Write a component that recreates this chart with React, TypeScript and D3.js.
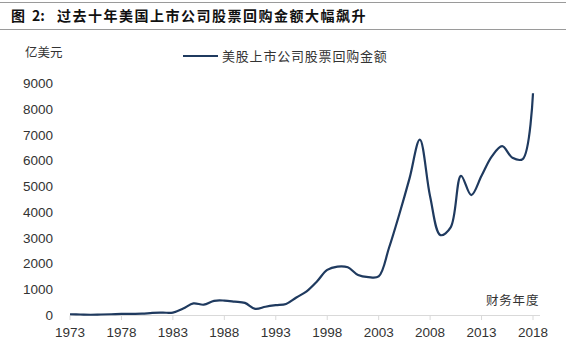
import React from "react";
import * as d3 from "d3";

const years: number[] = d3.range(1973, 2019);
// 亿美元
const buyback: number[] = [
  30, 20, 10, 20, 30, 40, 45, 50, 80, 90,
  95, 250, 450, 400, 550, 560, 520, 470, 240, 320,
  380, 430, 680, 920, 1300, 1750, 1880, 1850, 1550, 1470,
  1500, 2600, 3900, 5300, 6800, 4600, 3100, 3400, 5400, 4650,
  5400, 6150, 6550, 6100, 6050, 8600,
];
const yTicks: number[] = d3.range(0, 10000, 1000);
const xTicks: number[] = d3.range(1973, 2019, 5);

const figWord = "图";
const figNum = "2:";
const title = "过去十年美国上市公司股票回购金额大幅飙升";
const seriesName = "美股上市公司股票回购金额";
const yUnit = "亿美元";
const xName = "财务年度";

const W = 572;
const H = 353;
const cjk = "'Noto Sans CJK SC', sans-serif";
const latin = "'Liberation Sans', Arial, sans-serif";

export default function App() {
  const x = d3.scaleLinear().domain([1973, 2018]).range([70, 533]);
  const y = d3.scaleLinear().domain([0, 9000]).range([315, 83]);

  const line = d3
    .line<number>()
    .x((_, i) => x(years[i]))
    .y((d) => y(d))
    .curve(d3.curveCatmullRom.alpha(0.5));

  return (
    <div style={{ position: "fixed", left: 0, top: 0, background: "#fff" }}>
      <svg width={W} height={H} style={{ display: "block" }}>
        <rect width={W} height={H} fill="#fff" />
        {/* title bar */}
        <line x1={0} x2={566} y1={2.5} y2={2.5} stroke="#9a9a9a" strokeWidth={1} />
        <line x1={0} x2={566} y1={29.5} y2={29.5} stroke="#9a9a9a" strokeWidth={1} />
        <text y={21} fontFamily={cjk} fontSize={14} fontWeight={700} fill="#111">
          <tspan x={11}>{figWord}</tspan>
          <tspan x={32}>{figNum}</tspan>
          <tspan x={57} letterSpacing={1.5}>{title}</tspan>
        </text>

        <text x={25} y={57} fontFamily={cjk} fontSize={12.5} fill="#333">
          {yUnit}
        </text>

        {/* legend */}
        <line x1={183} x2={218} y1={56} y2={56} stroke="#1f3a5f" strokeWidth={2} />
        <text x={222} y={61} fontFamily={cjk} fontSize={13} fill="#333" letterSpacing={0.8}>
          {seriesName}
        </text>

        {/* y axis labels */}
        {yTicks.map((t) => (
          <text
            key={t}
            x={53}
            y={y(t) + 5}
            textAnchor="end"
            fontFamily={latin}
            fontSize={13.5}
            fill="#333"
          >
            {t}
          </text>
        ))}

        {/* x axis */}
        <line x1={x(1973)} x2={540} y1={315.5} y2={315.5} stroke="#d9d9d9" strokeWidth={1} />
        {xTicks.map((t) => (
          <g key={t}>
            <line x1={x(t)} x2={x(t)} y1={315.5} y2={320} stroke="#d9d9d9" strokeWidth={1} />
            <text
              x={x(t)}
              y={337}
              textAnchor="middle"
              fontFamily={latin}
              fontSize={13.5}
              fill="#333"
            >
              {t}
            </text>
          </g>
        ))}
        <text x={486} y={305} fontFamily={cjk} fontSize={12.5} fill="#333" letterSpacing={0.8}>
          {xName}
        </text>

        <path d={line(buyback) ?? ""} fill="none" stroke="#1f3a5f" strokeWidth={2.2} strokeLinejoin="round" />
      </svg>
    </div>
  );
}
